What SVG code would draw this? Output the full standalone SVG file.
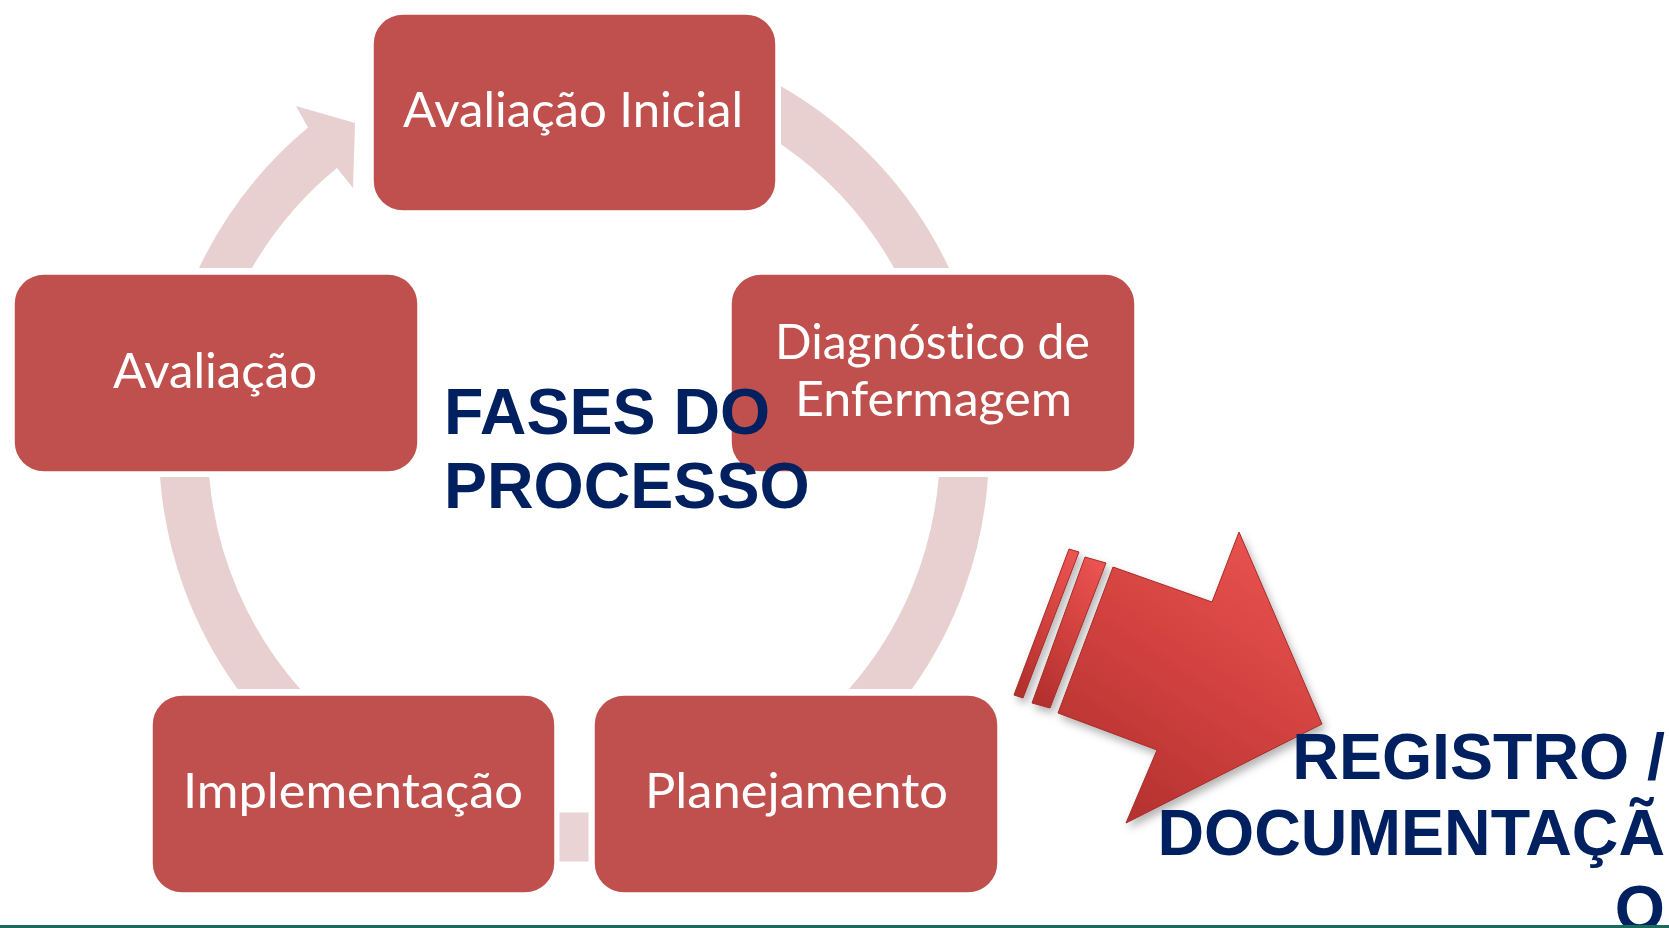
<svg xmlns="http://www.w3.org/2000/svg" width="1669" height="928" viewBox="0 0 1669 928">
<style>
.node rect{fill:#c0504d;stroke:#ffffff;stroke-width:1.5}
.lbl{font-family:Lato,"Open Sans","Liberation Sans",sans-serif;font-size:48px;fill:#ffffff;text-anchor:middle;font-variant-ligatures:none;font-feature-settings:"liga" 0}
.ring{fill:#e8d0d1}
.title{font-family:"Liberation Sans",Arial,sans-serif;font-weight:bold;font-size:64.5px;fill:#002060}
.big{fill:url(#redGrad);stroke:#a52c2a;stroke-width:1}
</style>
<defs>
<linearGradient id="redGrad" x1="0.8" y1="0" x2="0.2" y2="1">
<stop offset="0" stop-color="#ea5350"/>
<stop offset="0.5" stop-color="#d0413e"/>
<stop offset="1" stop-color="#b3302e"/>
</linearGradient>
<filter id="shadow" x="-20%" y="-20%" width="140%" height="140%">
<feDropShadow dx="3" dy="5" stdDeviation="4" flood-color="#000000" flood-opacity="0.3"/>
</filter>
</defs>
<rect width="1669" height="928" fill="#ffffff"/>
<g id="connectors" class="ring">
<path id="c-inicial-diagnostico" d="M781,86.3 A415,415 0 0 1 949,268 L894,268 A366,366 0 0 0 781,144.2 Z"/>
<path id="c-diagnostico-planejamento" d="M988,477 A415,415 0 0 1 912,689 L849,689 A366,366 0 0 0 938.7,477 Z"/>
<rect id="c-planejamento-implementacao" x="559" y="812" width="30" height="50" fill="#e9d3d4" stroke="#ffffff" stroke-width="1"/>
<path id="c-implementacao-avaliacao" d="M160,477 A415,415 0 0 0 237.6,689 L300.3,689 A366,366 0 0 1 209.3,477 Z"/>
<path id="c-avaliacao-inicial" d="M199,268 A415,415 0 0 1 308,127.5 L296,106 L355,123 L353,188 L337,168 A366,366 0 0 0 252,268 Z"/>
</g>
<g id="node-avaliacao-inicial" class="node">
<rect x="373" y="14" width="403" height="197" rx="30"/>
<text class="lbl" x="573" y="127" textLength="340" lengthAdjust="spacingAndGlyphs">Avaliação Inicial</text>
</g>
<g id="node-avaliacao" class="node">
<rect x="14" y="274" width="404" height="198" rx="30"/>
<text class="lbl" x="215" y="388" textLength="204" lengthAdjust="spacingAndGlyphs">Avaliação</text>
</g>
<g id="node-diagnostico" class="node">
<rect x="731" y="274" width="404" height="198" rx="30"/>
<text class="lbl" x="932.5" y="359" textLength="315" lengthAdjust="spacingAndGlyphs">Diagnóstico de</text>
<text class="lbl" x="933.5" y="416" textLength="277" lengthAdjust="spacingAndGlyphs">Enfermagem</text>
</g>
<g id="node-implementacao" class="node">
<rect x="152" y="695" width="403" height="198" rx="30"/>
<text class="lbl" x="353" y="808" textLength="340" lengthAdjust="spacingAndGlyphs">Implementação</text>
</g>
<g id="node-planejamento" class="node">
<rect x="594" y="695" width="404" height="198" rx="30"/>
<text class="lbl" x="796.5" y="808" textLength="303" lengthAdjust="spacingAndGlyphs">Planejamento</text>
</g>
<g id="title">
<text class="title" x="444" y="434">FASES DO</text>
<text class="title" x="444" y="508">PROCESSO</text>
</g>
<g id="arrow-registro" filter="url(#shadow)">
<polygon class="big" points="1069,549 1079,552 1023,698 1014,695"/>
<polygon class="big" points="1085,557 1106,563 1050,708 1032,703"/>
<polygon class="big" points="1113,567 1212,602 1239,532 1322,724 1126,823 1157,750 1058,713"/>
</g>
<g id="registro">
<text class="title" x="1665" y="779" text-anchor="end">REGISTRO /</text>
<text class="title" x="1665" y="855" text-anchor="end">DOCUMENTAÇÃ</text>
<text class="title" x="1665" y="931" text-anchor="end">O</text>
</g>
<rect x="0" y="925" width="1669" height="3" fill="#1a6b5e"/>
</svg>
